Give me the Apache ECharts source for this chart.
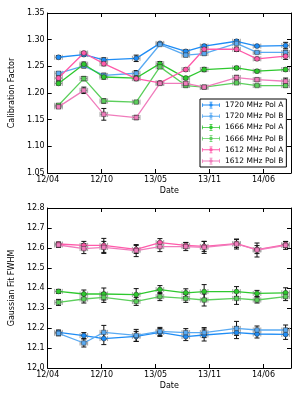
<!DOCTYPE html>
<html><head><meta charset="utf-8">
<script src="https://cdn.jsdelivr.net/npm/echarts@6/dist/echarts.min.js"></script>
<style>html,body{margin:0;padding:0;background:#fff}#c{width:300px;height:400px}</style>
</head><body><div id="c"></div>
<script>
// x ticks (date labels) and observation positions in tick units
const tickLabels = ['12/04','12/10','13/05','13/11','14/06'];
const obsX = [0.20,0.67,1.04,1.64,2.08,2.56,2.90,3.50,3.88,4.41];
const xErr = [0.07,0.07,0.07,0.07,0.07,0.07,0.07,0.07,0.07,0.07];
const seriesNames = ['1720 MHz Pol A','1720 MHz Pol B','1666 MHz Pol A','1666 MHz Pol B','1612 MHz Pol A','1612 MHz Pol B'];

// Calibration factor
const calib1720A = [1.267,1.272,1.262,1.265,1.293,1.278,1.288,1.297,1.288,1.289];
const calib1720B = [1.237,1.251,1.233,1.237,1.291,1.271,1.274,1.293,1.276,1.276];
const calib1666A = [1.218,1.254,1.230,1.228,1.255,1.228,1.244,1.247,1.241,1.244];
const calib1666B = [1.177,1.227,1.185,1.183,1.249,1.214,1.211,1.219,1.214,1.214];
const calib1612A = [1.228,1.275,1.255,1.227,1.219,1.244,1.282,1.282,1.264,1.269];
const calib1612B = [1.174,1.205,1.160,1.154,1.218,1.218,1.211,1.229,1.225,1.222];
const calibErr1720A = [0.003,0.003,0.004,0.006,0.002,0.003,0.003,0.003,0.002,0.006];
const calibErr1720B = [0.003,0.004,0.004,0.005,0.002,0.003,0.003,0.002,0.002,0.004];
const calibErr1666A = [0.003,0.004,0.004,0.003,0.004,0.003,0.004,0.003,0.003,0.003];
const calibErr1666B = [0.003,0.004,0.004,0.002,0.003,0.003,0.002,0.002,0.002,0.003];
const calibErr1612A = [0.004,0.003,0.004,0.004,0.003,0.003,0.003,0.004,0.003,0.006];
const calibErr1612B = [0.003,0.006,0.011,0.004,0.003,0.003,0.002,0.004,0.003,0.006];

// Gaussian fit FWHM
const fwhm1720A = [12.178,12.162,12.147,12.158,12.178,12.157,12.165,12.177,12.170,12.168];
const fwhm1720B = [12.173,12.125,12.178,12.163,12.183,12.177,12.177,12.198,12.190,12.190];
const fwhm1666A = [12.383,12.370,12.370,12.367,12.392,12.376,12.382,12.382,12.373,12.376];
const fwhm1666B = [12.328,12.345,12.353,12.333,12.357,12.348,12.340,12.348,12.340,12.357];
const fwhm1612A = [12.620,12.613,12.613,12.593,12.627,12.613,12.608,12.622,12.592,12.617];
const fwhm1612B = [12.615,12.597,12.603,12.587,12.607,12.607,12.603,12.620,12.590,12.613];
const fwhmErr1720A = [0.012,0.015,0.030,0.025,0.020,0.020,0.030,0.030,0.020,0.025];
const fwhmErr1720B = [0.012,0.020,0.035,0.030,0.020,0.020,0.025,0.035,0.020,0.025];
const fwhmErr1666A = [0.010,0.020,0.030,0.030,0.020,0.020,0.035,0.025,0.015,0.025];
const fwhmErr1666B = [0.015,0.020,0.025,0.020,0.020,0.020,0.030,0.030,0.015,0.020];
const fwhmErr1612A = [0.010,0.020,0.035,0.020,0.020,0.015,0.025,0.020,0.020,0.015];
const fwhmErr1612B = [0.012,0.025,0.030,0.030,0.025,0.020,0.030,0.025,0.035,0.020];

const colors = ['#1e8cf5','#5aaaf2','#2ec82e','#5ccf5c','#ff5aaa','#f07cbc'];
const symbols = ['circle','rect','circle','rect','circle','rect'];

const calibVals = [calib1720A,calib1720B,calib1666A,calib1666B,calib1612A,calib1612B];
const calibErrs = [calibErr1720A,calibErr1720B,calibErr1666A,calibErr1666B,calibErr1612A,calibErr1612B];
const fwhmVals = [fwhm1720A,fwhm1720B,fwhm1666A,fwhm1666B,fwhm1612A,fwhm1612B];
const fwhmErrs = [fwhmErr1720A,fwhmErr1720B,fwhmErr1666A,fwhmErr1666B,fwhmErr1612A,fwhmErr1612B];

const FONT = 'DejaVu Sans';

function errRender(params, api) {
  const x = api.value(0), y = api.value(1), ye = api.value(2), xe = api.value(3);
  const c = api.coord([x, y]);
  const t = api.coord([x, y + ye]), b = api.coord([x, y - ye]);
  const l = api.coord([x - xe, y]), r = api.coord([x + xe, y]);
  const cap = 2.5;
  const g = {stroke:'#a0a0a0', lineWidth:1};
  const k = {stroke:'#111', lineWidth:1};
  return {type:'group', children:[
    {type:'line', shape:{x1:l[0],y1:c[1],x2:r[0],y2:c[1]}, style:g},
    {type:'line', shape:{x1:l[0],y1:c[1]-cap,x2:l[0],y2:c[1]+cap}, style:g},
    {type:'line', shape:{x1:r[0],y1:c[1]-cap,x2:r[0],y2:c[1]+cap}, style:g},
    {type:'line', shape:{x1:c[0],y1:t[1],x2:c[0],y2:b[1]}, style:k},
    {type:'line', shape:{x1:c[0]-cap,y1:t[1],x2:c[0]+cap,y2:t[1]}, style:k},
    {type:'line', shape:{x1:c[0]-cap,y1:b[1],x2:c[0]+cap,y2:b[1]}, style:k}
  ]};
}

const xFmt = v => { const r = Math.round(v); return Math.abs(v - r) < 1e-6 && tickLabels[r] !== undefined ? tickLabels[r] : ''; };

function xAxes(gridIndex) {
  const common = {type:'value', gridIndex, min:0, max:4.51, interval:1, splitLine:{show:false},
    axisLine:{show:true, onZero:false, lineStyle:{color:'#000', width:1}},
    axisTick:{show:true, inside:true, length:4, lineStyle:{color:'#000'}}};
  return [
    Object.assign({}, common, {position:'bottom', name:'Date', nameLocation:'middle', nameGap:14,
      nameTextStyle:{fontFamily:FONT, fontSize:8, color:'#000'},
      axisLabel:{formatter:xFmt, fontFamily:FONT, fontSize:8, color:'#000', margin:3}}),
    Object.assign({}, common, {position:'top', axisLabel:{show:false}})
  ];
}
function yAxes(gridIndex, min, max, interval, dec, name) {
  const common = {type:'value', gridIndex, min, max, interval, splitLine:{show:false},
    axisLine:{show:true, onZero:false, lineStyle:{color:'#000', width:1}},
    axisTick:{show:true, inside:true, length:4, lineStyle:{color:'#000'}}};
  return [
    Object.assign({}, common, {position:'left', name, nameLocation:'middle', nameGap:24,
      nameTextStyle:{fontFamily:FONT, fontSize:8, color:'#000'},
      axisLabel:{formatter: v => v.toFixed(dec), fontFamily:FONT, fontSize:8, color:'#000', margin:3}}),
    Object.assign({}, common, {position:'right', axisLabel:{show:false}})
  ];
}

const series = [];
function addPanel(vals, errs, xi, yi) {
  vals.forEach((arr, i) => {
    series.push({type:'line', name:seriesNames[i], xAxisIndex:xi, yAxisIndex:yi,
      data: arr.map((v, j) => [obsX[j], v]),
      lineStyle:{color:colors[i], width:1.3}, itemStyle:{color:colors[i], borderColor:'#2a2a2a', borderWidth:0.5},
      symbol:symbols[i], symbolSize: i % 2 === 0 ? 5 : 4.5, showSymbol:true, z:5, animation:false});
  });
  vals.forEach((arr, i) => {
    series.push({type:'custom', name:seriesNames[i] + ' err', xAxisIndex:xi, yAxisIndex:yi,
      renderItem: errRender, data: arr.map((v, j) => [obsX[j], v, errs[i][j], xErr[j]]),
      z:4, animation:false, silent:true});
  });
}
addPanel(calibVals, calibErrs, 0, 0);
addPanel(fwhmVals, fwhmErrs, 2, 2);

const legendIcon = 'path://M0,4.4h24v1.2h-24z M0,2.5h1v5h-1z M23,2.5h1v5h-1z M11.5,0.5h1v9h-1z M10,0.5h4v1h-4z M10,8.5h4v1h-4z M14.4,5A2.4,2.4 0 1 1 9.6,5A2.4,2.4 0 1 1 14.4,5z';

const chart = echarts.init(document.getElementById('c'), null, {renderer:'canvas'});
chart.setOption({
  animation:false,
  backgroundColor:'#fff',
  grid:[
    {left:40, top:13, width:251, height:160},
    {left:40, top:208, width:251, height:160}
  ],
  xAxis:[...xAxes(0), ...xAxes(1)],
  yAxis:[...yAxes(0, 1.05, 1.35, 0.05, 2, 'Calibration Factor'), ...yAxes(1, 12.0, 12.8, 0.1, 1, 'Gaussian Fit FWHM')],
  legend:{data:seriesNames, orient:'vertical', left:200, top:99, padding:[2,3,2,2],
    backgroundColor:'#fff', borderColor:'#000', borderWidth:1, borderRadius:0,
    itemWidth:18, itemHeight:8, itemGap:3.2, icon:legendIcon, selectedMode:false,
    itemStyle:{borderWidth:0},
    textStyle:{fontFamily:FONT, fontSize:7.5, color:'#000', lineHeight:8}},
  series
});
</script></body></html>
